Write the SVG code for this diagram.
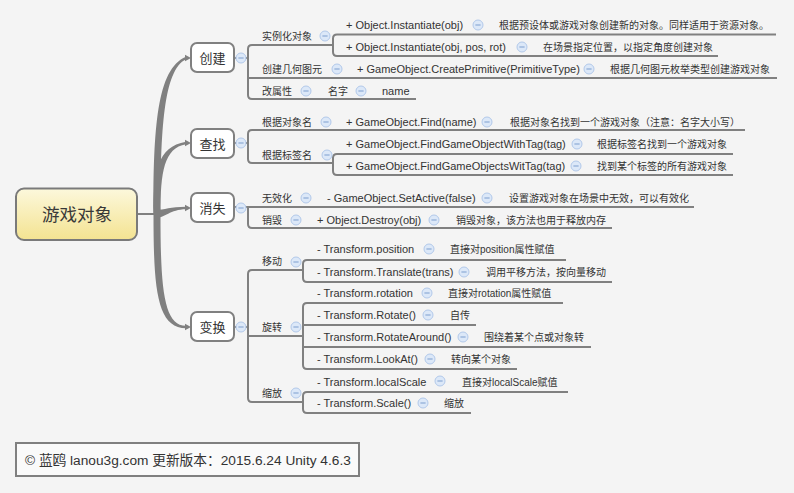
<svg xmlns="http://www.w3.org/2000/svg" xmlns:xlink="http://www.w3.org/1999/xlink" width="794" height="493" viewBox="0 0 794 493">
<defs>
<style>
.t{font-family:"Liberation Sans","Noto Sans CJK SC",sans-serif;font-size:11px;fill:#333}
.c{font-family:"Liberation Sans","Noto Sans CJK SC",sans-serif;font-size:10px;fill:#333}
.m{font-family:"Noto Sans CJK SC",sans-serif;font-size:13px;fill:#333;text-anchor:middle}
.r{font-family:"Noto Sans CJK SC",sans-serif;font-size:17.5px;fill:#383838;text-anchor:middle}
.ln{fill:none;stroke:#808080;stroke-width:2}
.box{fill:#fff;stroke:#808080;stroke-width:2}
.br{fill:#808080}
</style>
<linearGradient id="gy" x1="0" y1="0" x2="0" y2="1">
<stop offset="0" stop-color="#fcf8dc"/>
<stop offset="1" stop-color="#f4e391"/>
</linearGradient>
<g id="mn"><circle r="5" fill="#dce8f8" stroke="#b2c9ea" stroke-width="1"/><line x1="-2.6" y1="0" x2="2.6" y2="0" stroke="#86a4d2" stroke-width="1.1"/></g>
<path id="ar" d="M-6,-3.2 L0,0 L-6,3.2 Z" fill="#808080"/>
</defs>
<rect width="794" height="493" fill="#f4f4f4"/>

<g id="connectors">
<path class="ln" d="M138,214 H157"/>
<path class="br" d="M153.5,214 C153.5,130 156.5,68.8 186,56.8 L186,59.2 C163.5,70 160.5,130 160.5,214 Z"/>
<path class="br" d="M153.5,214 C153.5,172 157,147 186,141.8 L186,144.2 C164,148 160.5,172 160.5,214 Z"/>
<path class="br" d="M155,210 C165,210 170,206.8 186,206.8 L186,209.2 C170,209.2 165,218 155,218 Z"/>
<path class="br" d="M153.5,214 C153.5,287.5 156.5,328.2 186,328.2 L186,325.8 C163.5,325.8 160.5,287.5 160.5,214 Z"/>
<use xlink:href="#ar" x="191" y="58"/>
<use xlink:href="#ar" x="191" y="143"/>
<use xlink:href="#ar" x="191" y="208"/>
<use xlink:href="#ar" x="191" y="327"/>

<path class="ln" d="M234,58 H248"/>
<path class="ln" d="M333,45 H252 Q248,45 248,49 V95 Q248,99 252,99 H416"/>
<path class="ln" d="M248,78 H777"/>
<path class="ln" d="M776,34.5 H337 Q333,34.5 333,38.5 V52 Q333,56 337,56 H718"/>

<path class="ln" d="M234,143 H248"/>
<path class="ln" d="M745,130 H252 Q248,130 248,134 V159 Q248,163 252,163 H333"/>
<path class="ln" d="M733,154 H337 Q333,154 333,158 V171 Q333,175 337,175 H733"/>

<path class="ln" d="M234,207 H694"/>
<path class="ln" d="M248,207 V224 Q248,228 252,228 H612"/>

<path class="ln" d="M234,327 H248"/>
<path class="ln" d="M303,270 H252 Q248,270 248,274 V398 Q248,402 252,402 H303"/>
<path class="ln" d="M248,336 H303"/>
<path class="ln" d="M566,260 H307 Q303,260 303,264 V278 Q303,282 307,282 H612"/>
<path class="ln" d="M563,303 H307 Q303,303 303,307 V365 Q303,369 307,369 H517"/>
<path class="ln" d="M303,325 H476"/>
<path class="ln" d="M303,347 H591"/>
<path class="ln" d="M568,392 H307 Q303,392 303,396 V409 Q303,413 307,413 H471"/>
</g>

<g id="root"><rect x="16" y="188.5" width="121" height="51.5" rx="8" fill="url(#gy)" stroke="#7a7a7a" stroke-width="2"/><text class="r" x="77" y="220.5">游戏对象</text></g>

<g id="n-create"><rect class="box" x="191" y="43" width="43" height="29" rx="6"/><text class="m" x="212.5" y="63">创建</text><use xlink:href="#mn" x="241" y="58"/></g>
<g id="n-find"><rect class="box" x="191" y="129" width="43" height="29" rx="6"/><text class="m" x="212.5" y="148.5">查找</text><use xlink:href="#mn" x="241" y="143"/></g>
<g id="n-hide"><rect class="box" x="191" y="193" width="43" height="29" rx="6"/><text class="m" x="212.5" y="212.5">消失</text><use xlink:href="#mn" x="241" y="208"/></g>
<g id="n-trans"><rect class="box" x="191" y="312" width="43" height="29" rx="6"/><text class="m" x="212.5" y="331.5">变换</text><use xlink:href="#mn" x="241" y="327"/></g>

<g id="n-inst"><text class="c" x="262" y="40">实例化对象</text><use xlink:href="#mn" x="325" y="36"/></g>
<g id="n-inst1"><text class="t" x="346" y="29">+ Object.Instantiate(obj)</text><use xlink:href="#mn" x="478" y="25"/></g>
<g id="n-inst1d"><text class="c" x="499" y="29">根据预设体或游戏对象创建新的对象。同样适用于资源对象。</text></g>
<g id="n-inst2"><text class="t" x="346" y="51">+ Object.Instantiate(obj, pos, rot)</text><use xlink:href="#mn" x="522" y="47"/></g>
<g id="n-inst2d"><text class="c" x="543" y="51">在场景指定位置，以指定角度创建对象</text></g>
<g id="n-prim"><text class="c" x="262" y="73">创建几何图元</text><use xlink:href="#mn" x="337" y="69"/></g>
<g id="n-prim1"><text class="t" x="357" y="73">+ GameObject.CreatePrimitive(PrimitiveType)</text><use xlink:href="#mn" x="589" y="69"/></g>
<g id="n-prim1d"><text class="c" x="610" y="73">根据几何图元枚举类型创建游戏对象</text></g>
<g id="n-attr"><text class="c" x="262" y="95">改属性</text><use xlink:href="#mn" x="306" y="91"/></g>
<g id="n-attr1"><text class="c" x="328" y="95">名字</text><use xlink:href="#mn" x="361" y="91"/></g>
<g id="n-attr1d"><text class="t" x="382" y="95">name</text></g>

<g id="n-byname"><text class="c" x="262" y="126">根据对象名</text><use xlink:href="#mn" x="326" y="122"/></g>
<g id="n-find1"><text class="t" x="346" y="126">+ GameObject.Find(name)</text><use xlink:href="#mn" x="487" y="122"/></g>
<g id="n-find1d"><text class="c" x="510" y="126">根据对象名找到一个游戏对象（注意：名字大小写）</text></g>
<g id="n-bytag"><text class="c" x="262" y="159">根据标签名</text><use xlink:href="#mn" x="327" y="155"/></g>
<g id="n-find2"><text class="t" x="346" y="148">+ GameObject.FindGameObjectWithTag(tag)</text><use xlink:href="#mn" x="577" y="144"/></g>
<g id="n-find2d"><text class="c" x="597" y="148">根据标签名找到一个游戏对象</text></g>
<g id="n-find3"><text class="t" x="346" y="170">+ GameObject.FindGameObjectsWitTag(tag)</text><use xlink:href="#mn" x="576" y="166"/></g>
<g id="n-find3d"><text class="c" x="597" y="170">找到某个标签的所有游戏对象</text></g>

<g id="n-inactive"><text class="c" x="262" y="202">无效化</text><use xlink:href="#mn" x="306" y="198"/></g>
<g id="n-setactive"><text class="t" x="327" y="202">- GameObject.SetActive(false)</text><use xlink:href="#mn" x="487" y="198"/></g>
<g id="n-setactived"><text class="c" x="509" y="202">设置游戏对象在场景中无效，可以有效化</text></g>
<g id="n-destroy"><text class="c" x="262" y="224">销毁</text><use xlink:href="#mn" x="296" y="220"/></g>
<g id="n-destroy1"><text class="t" x="317" y="224">+ Object.Destroy(obj)</text><use xlink:href="#mn" x="434" y="220"/></g>
<g id="n-destroy1d"><text class="c" x="456" y="224">销毁对象，该方法也用于释放内存</text></g>

<g id="n-move"><text class="c" x="262" y="265">移动</text><use xlink:href="#mn" x="296" y="262"/></g>
<g id="n-pos"><text class="t" x="317" y="253">- Transform.position</text><use xlink:href="#mn" x="429" y="249"/></g>
<g id="n-posd"><text class="c" x="450" y="253">直接对position属性赋值</text></g>
<g id="n-translate"><text class="t" x="317" y="276">- Transform.Translate(trans)</text><use xlink:href="#mn" x="464" y="272"/></g>
<g id="n-translated"><text class="c" x="486" y="276">调用平移方法，按向量移动</text></g>
<g id="n-rot"><text class="c" x="262" y="331">旋转</text><use xlink:href="#mn" x="296" y="327"/></g>
<g id="n-rotation"><text class="t" x="317" y="297">- Transform.rotation</text><use xlink:href="#mn" x="427" y="293"/></g>
<g id="n-rotationd"><text class="c" x="448" y="297">直接对rotation属性赋值</text></g>
<g id="n-rotate"><text class="t" x="317" y="319">- Transform.Rotate()</text><use xlink:href="#mn" x="428" y="315"/></g>
<g id="n-rotated"><text class="c" x="450" y="319">自传</text></g>
<g id="n-around"><text class="t" x="317" y="341">- Transform.RotateAround()</text><use xlink:href="#mn" x="463" y="337"/></g>
<g id="n-aroundd"><text class="c" x="484" y="341">围绕着某个点或对象转</text></g>
<g id="n-lookat"><text class="t" x="317" y="363">- Transform.LookAt()</text><use xlink:href="#mn" x="430" y="359"/></g>
<g id="n-lookatd"><text class="c" x="451" y="363">转向某个对象</text></g>
<g id="n-scale"><text class="c" x="262" y="397">缩放</text><use xlink:href="#mn" x="296" y="393"/></g>
<g id="n-localscale"><text class="t" x="317" y="386">- Transform.localScale</text><use xlink:href="#mn" x="440" y="381"/></g>
<g id="n-localscaled"><text class="c" x="462" y="386">直接对localScale赋值</text></g>
<g id="n-scalefn"><text class="t" x="317" y="407">- Transform.Scale()</text><use xlink:href="#mn" x="423" y="403"/></g>
<g id="n-scalefnd"><text class="c" x="444" y="407">缩放</text></g>

<g id="footer"><rect x="16" y="443" width="343" height="33" fill="#fafafa" stroke="#808080" stroke-width="2"/><text x="25" y="465" style="font-family:'Liberation Sans','Noto Sans CJK SC',sans-serif;font-size:13.7px;fill:#333">© 蓝鸥 lanou3g.com 更新版本：2015.6.24 Unity 4.6.3</text></g>
</svg>
